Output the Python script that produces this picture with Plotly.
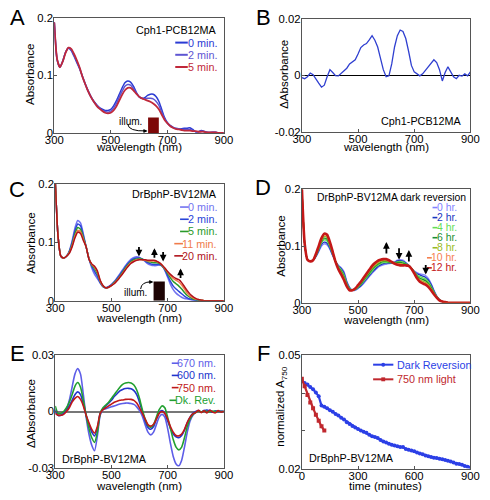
import plotly.graph_objects as go

W, H = 490, 500
FONT = "Liberation Sans, Arial, Helvetica, sans-serif"

# ---------------- data ----------------
wavelength = list(range(300, 901, 10))

# Panel A: Cph1-PCB12MA spectra
a_0min = [0.192,0.127,0.114,0.125,0.140,0.147,0.143,0.133,0.122,0.111,
          0.098,0.085,0.073,0.063,0.055,0.049,0.044,0.041,0.039,0.039,
          0.041,0.047,0.056,0.067,0.078,0.087,0.090,0.088,0.081,0.071,
          0.063,0.060,0.061,0.065,0.067,0.067,0.063,0.055,0.041,0.027,
          0.018,0.013,0.010,0.008,0.007,0.007,0.008,0.008,0.009,0.006,
          0.002,0.002,0.004,0.003,0.001,0.000,0.001,0.001,0.000,0.000,0.000]
a_2min = [0.192,0.128,0.114,0.124,0.140,0.148,0.145,0.135,0.124,0.112,
          0.097,0.084,0.072,0.062,0.054,0.048,0.043,0.039,0.037,0.036,
          0.038,0.043,0.051,0.062,0.072,0.081,0.084,0.083,0.077,0.069,
          0.063,0.060,0.059,0.060,0.060,0.059,0.055,0.048,0.036,0.025,
          0.017,0.012,0.009,0.007,0.007,0.006,0.006,0.006,0.006,0.004,
          0.002,0.002,0.003,0.002,0.001,0.001,0.001,0.001,0.000,0.000,0.000]
a_5min = [0.192,0.128,0.114,0.124,0.139,0.148,0.146,0.137,0.126,0.113,
          0.097,0.084,0.072,0.062,0.054,0.047,0.042,0.038,0.035,0.034,
          0.035,0.039,0.046,0.056,0.066,0.074,0.078,0.078,0.074,0.068,
          0.063,0.060,0.058,0.056,0.054,0.051,0.047,0.041,0.032,0.023,
          0.017,0.012,0.009,0.007,0.006,0.005,0.004,0.004,0.004,0.003,
          0.003,0.002,0.002,0.002,0.001,0.001,0.001,0.001,0.000,0.000,0.000]

# Panel B: difference spectrum
b_delta = [-0.0008,-0.0012,-0.0005,0.0008,0.0002,-0.0015,-0.0028,-0.0042,-0.0035,-0.0005,
           0.0020,0.0010,-0.0001,-0.0002,0.0006,0.0014,0.0025,0.0040,0.0048,0.0055,
           0.0075,0.0098,0.0107,0.0112,0.0125,0.0140,0.0124,0.0100,0.0060,0.0020,
           -0.0005,-0.0002,0.0040,0.0100,0.0140,0.0160,0.0155,0.0130,0.0085,0.0035,
           0.0012,0.0005,-0.0002,0.0005,0.0018,0.0030,0.0040,0.0055,0.0045,0.0020,
           -0.0020,0.0010,0.0030,0.0012,-0.0005,-0.0012,0.0000,-0.0003,0.0005,-0.0002,0.0012]

# Panel C: DrBphP-BV12MA illumination series
c_0min = [0.205,0.110,0.076,0.073,0.076,0.085,0.102,0.124,0.137,0.133,
          0.114,0.092,0.072,0.056,0.045,0.038,0.030,0.024,0.022,0.024,
          0.028,0.033,0.039,0.046,0.053,0.060,0.066,0.071,0.074,0.075,
          0.074,0.071,0.067,0.063,0.061,0.060,0.060,0.061,0.059,0.052,
          0.040,0.028,0.019,0.013,0.009,0.006,0.004,0.003,0.002,0.001,
          0.001,0.000,0.000,0.000,0.000,0.000,0.000,0.000,0.000,0.000,0.000]
c_2min = [0.205,0.110,0.076,0.073,0.076,0.084,0.099,0.119,0.131,0.128,
          0.111,0.092,0.072,0.059,0.050,0.042,0.031,0.024,0.022,0.024,
          0.027,0.032,0.038,0.044,0.051,0.058,0.064,0.069,0.072,0.073,
          0.073,0.071,0.068,0.065,0.063,0.062,0.062,0.062,0.060,0.053,
          0.043,0.033,0.025,0.020,0.016,0.012,0.008,0.005,0.003,0.002,
          0.001,0.001,0.000,0.000,0.000,0.000,0.000,0.000,0.000,0.000,0.000]
c_5min = [0.205,0.110,0.076,0.073,0.076,0.083,0.096,0.114,0.125,0.122,
          0.108,0.092,0.072,0.061,0.055,0.046,0.033,0.025,0.022,0.023,
          0.026,0.031,0.036,0.042,0.049,0.056,0.062,0.067,0.070,0.071,
          0.072,0.071,0.069,0.067,0.066,0.065,0.065,0.064,0.060,0.054,
          0.047,0.039,0.033,0.029,0.025,0.020,0.014,0.009,0.006,0.003,
          0.002,0.001,0.001,0.000,0.000,0.000,0.000,0.000,0.000,0.000,0.000]
c_11min = [0.205,0.110,0.076,0.073,0.076,0.082,0.094,0.110,0.120,0.118,
           0.105,0.092,0.072,0.062,0.057,0.049,0.034,0.025,0.022,0.023,
           0.026,0.030,0.035,0.041,0.047,0.054,0.060,0.065,0.068,0.070,
           0.071,0.070,0.069,0.068,0.068,0.068,0.067,0.065,0.061,0.055,
           0.049,0.043,0.038,0.035,0.032,0.027,0.020,0.013,0.008,0.005,
           0.003,0.002,0.001,0.000,0.000,0.000,0.000,0.000,0.000,0.000,0.000]
c_20min = [0.205,0.110,0.076,0.073,0.076,0.081,0.092,0.107,0.117,0.115,
           0.103,0.092,0.071,0.063,0.059,0.051,0.035,0.026,0.022,0.023,
           0.026,0.029,0.034,0.040,0.046,0.053,0.059,0.064,0.067,0.069,
           0.070,0.070,0.070,0.069,0.069,0.069,0.068,0.065,0.061,0.056,
           0.050,0.045,0.041,0.038,0.036,0.031,0.024,0.017,0.011,0.007,
           0.004,0.002,0.001,0.000,0.000,0.000,0.000,0.000,0.000,0.000,0.000]

# Panel D: dark reversion series
d_0hr = [0.205,0.105,0.076,0.073,0.075,0.081,0.090,0.100,0.104,0.102,
         0.094,0.083,0.073,0.066,0.062,0.055,0.038,0.027,0.022,0.022,
         0.025,0.029,0.034,0.040,0.046,0.052,0.057,0.062,0.065,0.067,
         0.068,0.069,0.070,0.072,0.075,0.076,0.075,0.071,0.066,0.061,
         0.056,0.053,0.051,0.050,0.048,0.043,0.034,0.022,0.012,0.005,
         0.002,0.001,0.000,0.000,0.000,0.000,0.000,0.000,0.000,0.000,0.000]
d_2hr = [0.205,0.105,0.076,0.073,0.075,0.082,0.092,0.103,0.107,0.105,
         0.096,0.084,0.073,0.065,0.060,0.052,0.036,0.026,0.022,0.023,
         0.026,0.030,0.036,0.042,0.048,0.054,0.059,0.064,0.067,0.069,
         0.070,0.070,0.070,0.071,0.074,0.074,0.073,0.070,0.066,0.061,
         0.055,0.051,0.049,0.047,0.045,0.040,0.032,0.021,0.011,0.005,
         0.002,0.001,0.000,0.000,0.000,0.000,0.000,0.000,0.000,0.000,0.000]
d_4hr = [0.205,0.105,0.076,0.073,0.075,0.083,0.094,0.106,0.111,0.109,
         0.099,0.086,0.073,0.064,0.058,0.049,0.034,0.025,0.022,0.023,
         0.027,0.032,0.038,0.044,0.050,0.056,0.062,0.066,0.069,0.071,
         0.071,0.071,0.071,0.071,0.072,0.073,0.072,0.069,0.066,0.061,
         0.055,0.049,0.046,0.044,0.042,0.037,0.029,0.019,0.011,0.005,
         0.002,0.001,0.000,0.000,0.000,0.000,0.000,0.000,0.000,0.000,0.000]
d_6hr = [0.205,0.105,0.076,0.073,0.075,0.083,0.096,0.108,0.114,0.112,
         0.101,0.087,0.073,0.062,0.056,0.046,0.032,0.024,0.022,0.024,
         0.028,0.033,0.040,0.046,0.052,0.059,0.064,0.068,0.071,0.073,
         0.073,0.072,0.071,0.070,0.071,0.071,0.070,0.068,0.065,0.061,
         0.054,0.047,0.043,0.041,0.039,0.034,0.027,0.018,0.010,0.005,
         0.002,0.001,0.000,0.000,0.000,0.000,0.000,0.000,0.000,0.000,0.000]
d_8hr = [0.205,0.105,0.076,0.073,0.075,0.084,0.097,0.110,0.117,0.115,
         0.103,0.088,0.073,0.061,0.054,0.044,0.031,0.023,0.022,0.024,
         0.029,0.035,0.042,0.048,0.055,0.061,0.066,0.070,0.073,0.074,
         0.074,0.073,0.071,0.070,0.069,0.069,0.068,0.067,0.065,0.061,
         0.053,0.045,0.041,0.038,0.036,0.032,0.025,0.017,0.010,0.004,
         0.002,0.001,0.000,0.000,0.000,0.000,0.000,0.000,0.000,0.000,0.000]
d_10hr = [0.205,0.105,0.076,0.073,0.075,0.085,0.099,0.112,0.120,0.118,
          0.105,0.089,0.072,0.060,0.052,0.042,0.030,0.022,0.022,0.025,
          0.030,0.036,0.043,0.050,0.057,0.063,0.068,0.072,0.075,0.076,
          0.076,0.074,0.072,0.069,0.068,0.068,0.067,0.066,0.065,0.060,
          0.053,0.044,0.039,0.036,0.034,0.030,0.023,0.016,0.009,0.004,
          0.002,0.001,0.000,0.000,0.000,0.000,0.000,0.000,0.000,0.000,0.000]
d_12hr = [0.205,0.105,0.076,0.073,0.075,0.086,0.100,0.114,0.122,0.120,
          0.107,0.090,0.072,0.059,0.050,0.040,0.029,0.022,0.022,0.025,
          0.031,0.037,0.044,0.051,0.058,0.065,0.070,0.074,0.076,0.077,
          0.077,0.075,0.072,0.069,0.067,0.066,0.066,0.066,0.065,0.060,
          0.052,0.043,0.037,0.034,0.032,0.028,0.022,0.015,0.009,0.004,
          0.002,0.001,0.000,0.000,0.000,0.000,0.000,0.000,0.000,0.000,0.000]

# Panel E: difference spectra
e_670 = [0.000,-0.002,-0.002,-0.001,0.001,0.006,0.013,0.020,0.023,0.020,
         0.009,-0.003,-0.012,-0.018,-0.021,-0.013,-0.002,0.001,0.0015,0.002,
         0.0025,0.003,0.0035,0.004,0.0043,0.0045,0.0045,0.0043,0.0038,0.0025,
         0.0005,-0.0025,-0.007,-0.011,-0.0125,-0.011,-0.007,-0.003,-0.0015,-0.003,
         -0.009,-0.017,-0.024,-0.028,-0.029,-0.026,-0.019,-0.011,-0.005,-0.002,
         -0.0005,0.0003,-0.0004,0.0006,0.0000,0.0008,-0.0003,0.0004,0.0001,-0.0002,0.0001]
e_600 = [0.001,-0.002,-0.002,-0.001,0.001,0.003,0.006,0.009,0.0105,0.009,
         0.004,-0.002,-0.007,-0.011,-0.013,-0.009,-0.001,0.0015,0.003,0.0045,
         0.006,0.008,0.0095,0.011,0.0118,0.0123,0.0124,0.0122,0.0112,0.009,
         0.005,0.000,-0.005,-0.0085,-0.0095,-0.008,-0.004,-0.0005,0.0005,-0.001,
         -0.005,-0.009,-0.012,-0.0135,-0.014,-0.0128,-0.010,-0.006,-0.003,-0.001,
         0.000,0.0005,-0.0003,0.0004,0.0008,0.0002,-0.0004,0.0003,0.0000,0.0002,0.0000]
e_750 = [-0.001,-0.002,-0.002,-0.0015,0.000,0.002,0.005,0.007,0.008,0.0065,
         0.003,-0.002,-0.006,-0.0095,-0.0115,-0.008,-0.001,0.001,0.002,0.003,
         0.004,0.005,0.0055,0.006,0.0062,0.0065,0.0066,0.0065,0.006,0.0045,
         0.002,-0.001,-0.004,-0.007,-0.0078,-0.0068,-0.004,-0.001,0.000,-0.001,
         -0.004,-0.008,-0.011,-0.0128,-0.013,-0.012,-0.0095,-0.0058,-0.003,-0.0012,
         -0.0005,0.0006,-0.0006,0.0004,-0.0008,0.0007,-0.0002,-0.0007,0.0005,-0.0003,0.0002]
e_dark = [0.003,-0.001,-0.001,0.000,0.002,0.005,0.009,0.0135,0.0155,0.013,
          0.006,-0.002,-0.009,-0.014,-0.0165,-0.011,-0.001,0.002,0.0035,0.005,
          0.007,0.009,0.011,0.013,0.0145,0.0152,0.0155,0.0153,0.0142,0.0115,
          0.007,0.001,-0.004,-0.0075,-0.0085,-0.007,-0.003,0.001,0.003,0.002,
          -0.003,-0.009,-0.015,-0.019,-0.0205,-0.019,-0.014,-0.008,-0.004,-0.0015,
          -0.0005,0.0002,-0.0002,0.0003,0.0000,-0.0002,0.0002,0.0000,0.0001,0.0000,0.0000]

# Panel F: kinetics at 750 nm
f_dark_time = list(range(0, 901, 15))
f_dark = [0.0432,0.0427,0.0423,0.0416,0.0410,0.0402,0.0392,0.0367,0.0364,0.0360,
          0.0355,0.0351,0.0345,0.0341,0.0335,0.0330,0.0323,0.0318,0.0313,0.0309,
          0.0305,0.0301,0.0298,0.0295,0.0290,0.0286,0.0284,0.0281,0.0276,0.0272,
          0.0269,0.0266,0.0263,0.0261,0.0259,0.0257,0.0257,0.0252,0.0250,0.0248,
          0.0246,0.0243,0.0240,0.0238,0.0235,0.0233,0.0231,0.0229,0.0228,0.0226,
          0.0225,0.0223,0.0221,0.0219,0.0216,0.0213,0.0212,0.0210,0.0207,0.0205,0.0203]
f_light_time = list(range(0, 121, 15))
f_light = [0.0438,0.0418,0.0395,0.0375,0.0360,0.0343,0.0327,0.0312,0.0301]

# ---------------- figure ----------------
fig = go.Figure()

def px_x(x): return x / W
def px_y(y): return 1 - y / H

panels = {
    # name: (left, right, top, bottom) in pixels
    "1": (47, 223, 12, 130),
    "2": (304, 479, 13, 129),
    "3": (48, 223, 182, 302),
    "4": (304, 479, 188, 304),
    "5": (48, 223, 358, 473),
    "6": (304, 479, 358, 474),
}

def ax_names(k):
    return ("x" if k == "1" else "x" + k), ("y" if k == "1" else "y" + k)

def add_line(k, x, y, color, width=1.5):
    xa, ya = ax_names(k)
    fig.add_trace(go.Scatter(x=x, y=y, mode="lines", xaxis=xa, yaxis=ya,
                             line=dict(color=color, width=width, shape="spline", smoothing=0.6),
                             showlegend=False, hoverinfo="skip"))

# A
add_line("1", wavelength, a_0min, "#2b3bd3", 1.5)
add_line("1", wavelength, a_2min, "#5e55d2", 1.5)
add_line("1", wavelength, a_5min, "#c0283a", 1.8)
# B
xa, ya = ax_names("2")
fig.add_trace(go.Scatter(x=wavelength, y=b_delta, mode="lines", xaxis=xa, yaxis=ya,
                         line=dict(color="#2f3fd0", width=1.3), showlegend=False, hoverinfo="skip"))
# C
c_series = [(c_0min, "#7272f0"), (c_2min, "#2a45d8"), (c_5min, "#2a9a2a"),
            (c_11min, "#f07b4a"), (c_20min, "#b0121a")]
for ys, col in c_series:
    add_line("3", wavelength, ys, col, 1.5)
# D
d_series = [(d_0hr, "#8282ff"), (d_2hr, "#1a35c0"), (d_4hr, "#66dd55"), (d_6hr, "#1f8f2f"),
            (d_8hr, "#99bb22"), (d_10hr, "#f58050"), (d_12hr, "#c41818")]
for i, (ys, col) in enumerate(d_series):
    add_line("4", wavelength, ys, col, 2.6 if i == 6 else 1.4)
# E
e_series = [(e_670, "#5e5ee8"), (e_600, "#2233cc"), (e_dark, "#22a030"), (e_750, "#c01818")]
for ys, col in e_series:
    add_line("5", wavelength, ys, col, 1.6)
# F
xa, ya = ax_names("6")
fig.add_trace(go.Scatter(x=f_dark_time, y=f_dark, mode="lines+markers", xaxis=xa, yaxis=ya,
                         line=dict(color="#2b3fe6", width=2.2),
                         marker=dict(color="#2b3fe6", size=4, symbol="circle"),
                         showlegend=False, hoverinfo="skip"))
fig.add_trace(go.Scatter(x=f_light_time, y=f_light, mode="lines+markers", xaxis=xa, yaxis=ya,
                         line=dict(color="#c0282e", width=2.2),
                         marker=dict(color="#c0282e", size=4, symbol="square"),
                         showlegend=False, hoverinfo="skip"))

# ---------------- axes ----------------
axis_common = dict(showline=True, mirror=True, linecolor="#555555", linewidth=1,
                   ticks="inside", ticklen=3, tickcolor="#555555", showgrid=False,
                   zeroline=False, tickfont=dict(family=FONT, size=11.3, color="black"))
wl_ticks = dict(tickvals=[300, 500, 700, 900], ticktext=["300", "500", "700", "900"], range=[300, 900])
y_ranges = {
    "1": dict(range=[0, 0.2], tickvals=[0, 0.1, 0.2], ticktext=["0", "0.1", "0.2"]),
    "2": dict(range=[-0.02, 0.02], tickvals=[-0.02, 0, 0.02], ticktext=["-0.02", "0", "0.02"],
              zeroline=True, zerolinecolor="black", zerolinewidth=1.3),
    "3": dict(range=[0, 0.2], tickvals=[0, 0.1, 0.2], ticktext=["0", "0.1", "0.2"]),
    "4": dict(range=[0, 0.2], tickvals=[0, 0.1, 0.2], ticktext=["0", "0.1", "0.2"]),
    "5": dict(range=[-0.03, 0.03], tickvals=[-0.03, 0, 0.03], ticktext=["-0.03", "0", "0.03"],
              zeroline=True, zerolinecolor="#777777", zerolinewidth=1.5),
    "6": dict(range=[0.02, 0.05], tickvals=[0.02, 0.03, 0.04, 0.05], ticktext=["0.02", "", "", "0.05"]),
}
layout_axes = {}
for k, (l, r, t, b) in panels.items():
    xa, ya = ax_names(k)
    xkey = "xaxis" if k == "1" else "xaxis" + k
    ykey = "yaxis" if k == "1" else "yaxis" + k
    xd = dict(axis_common, domain=[px_x(l), px_x(r)], anchor=ya, ticklabelstandoff=-3)
    if k == "6":
        xd.update(range=[0, 900], tickvals=[0, 300, 600, 900], ticktext=["0", "300", "600", "900"])
    else:
        xd.update(wl_ticks)
    yd = dict(axis_common, domain=[px_y(b), px_y(t)], anchor=xa, ticklabelstandoff=-2)
    yd.update(y_ranges[k])
    layout_axes[xkey] = xd
    layout_axes[ykey] = yd

fig.update_layout(**layout_axes)

# ---------------- annotations & shapes ----------------
anns = []
shapes = []

def text(x, y, s, size=10.8, color="black", xanchor="center", angle=0):
    anns.append(dict(x=px_x(x), y=px_y(y), xref="paper", yref="paper", text=s, showarrow=False,
                     xanchor=xanchor, yanchor="middle", textangle=angle,
                     font=dict(family=FONT, size=size, color=color)))

# panel letters
for s, x, y in [("A", 8.5, 12), ("B", 264, 12), ("C", 8, 188), ("D", 264, 186), ("E", 8.5, 356.5), ("F", 264, 356.5)]:
    text(x, y, s, size=22)

# axis titles
TS = 11.5
for cx, cy in [(135, 144), (391, 144), (135, 320), (391, 322), (135, 492)]:
    text(cx, cy, "wavelength (nm)", size=TS)
text(391, 492, "time (minutes)", size=TS)
text(22.5, 70, "Absorbance", size=TS, angle=-90)
text(286, 70, "\u0394Absorbance", size=TS, angle=-90)
text(22.5, 243, "Absorbance", size=TS, angle=-90)
text(282, 246, "Absorbance", size=TS, angle=-90)
text(23, 418, "\u0394Absorbance", size=TS, angle=-90)
text(283, 411, "normalized A<sub>750</sub>", size=TS, angle=-90)

# text width estimate (Arial metrics) for legend swatches
CW = {" ": 278, ".": 278, "m": 833, "i": 222, "n": 556, "h": 556, "r": 333, "D": 722,
      "k": 500, "R": 722, "e": 556, "v": 500}
def tw(s, size):
    return sum(CW.get(ch, 556) for ch in s) * size / 1000.0

def legend_item(right, y, label, color, size, dash_len, gap, lw):
    text(right, y, label, size=size, color=color, xanchor="right")
    x1 = right - tw(label, size) - gap
    shapes.append(dict(type="line", xref="paper", yref="paper", x0=px_x(x1 - dash_len), x1=px_x(x1),
                       y0=px_y(y), y1=px_y(y), line=dict(color=color, width=lw)))

# A legend
text(218, 25, "Cph1-PCB12MA", xanchor="right")
for lab, col, y in [("0 min.", "#2b3bd3", 37.5), ("2 min.", "#5e55d2", 50), ("5 min.", "#c0283a", 62.5)]:
    legend_item(218, y, lab, col, 10.8, 13, 3, 2)
# B label
text(472, 118, "Cph1-PCB12MA", xanchor="right")
# C legend
text(218, 193, "DrBphP-BV12MA", xanchor="right")
for lab, col, y in [("0 min.", "#7272f0", 206), ("2 min.", "#2a45d8", 218.5), ("5 min.", "#2a9a2a", 231),
                    ("11 min.", "#f07b4a", 243.5), ("20 min.", "#b0121a", 256)]:
    legend_item(218, y, lab, col, 10.8, 9, 2, 1.6)
# D legend
text(477, 196, "DrBphP-BV12MA dark reversion", size=10.4, xanchor="right")
d_labels = ["0 hr.", "2 hr.", "4 hr.", "6 hr.", "8 hr.", "10 hr.", "12 hr."]
d_ys = [206.5, 216.8, 227.1, 237.4, 247.7, 258, 268.3]
for lab, (ys, col), y in zip(d_labels, d_series, d_ys):
    legend_item(467, y, lab, col, 10.4, 5, 1.5, 1.6)
# E legend
for lab, col, y in [("670 nm.", "#5e5ee8", 366), ("600 nm.", "#2233cc", 378.5),
                    ("750 nm.", "#c01818", 391), ("Dk. Rev.", "#22a030", 404)]:
    legend_item(217, y, lab, col, 10.8, 7, 2, 1.6)
text(53, 464, "DrBphP-BV12MA", xanchor="left")
# F legend
text(309, 463, "DrBphP-BV12MA", xanchor="left")
text(401, 367.5, "Dark Reversion", size=10.8, color="#2b3fe6", xanchor="left")
text(401, 382.5, "750 nm light", size=10.8, color="#c0282e", xanchor="left")
for y, col, kind in [(367.5, "#2b3fe6", "circle"), (382.5, "#c0282e", "rect")]:
    shapes.append(dict(type="line", xref="paper", yref="paper", x0=px_x(378), x1=px_x(399),
                       y0=px_y(y), y1=px_y(y), line=dict(color=col, width=2)))
    shapes.append(dict(type=kind, xref="paper", yref="paper", x0=px_x(386.5), x1=px_x(390.5),
                       y0=px_y(y + 2), y1=px_y(y - 2), fillcolor=col, line=dict(color=col, width=0)))

# illumination boxes
shapes.append(dict(type="rect", xref="x", yref="y", x0=632, x1=670, y0=0, y1=0.0266,
                   fillcolor="#7d0808", line=dict(width=0)))
shapes.append(dict(type="rect", xref="x3", yref="y3", x0=650, x1=690, y0=0, y1=0.0328,
                   fillcolor="#1e0404", line=dict(width=0)))
text(126.5, 118.5, "illum.", size=10)
text(131, 293.5, "illum.", size=10)
# curved arrows to the boxes
shapes.append(dict(type="path", xref="x", yref="y", path="M 560,0.0150 Q 563,0.0025 624,0.0034",
                   line=dict(color="black", width=1)))
anns.append(dict(x=630, y=0.0034, xref="x", yref="y", ax=-6, ay=0, text="", showarrow=True,
                 arrowhead=2, arrowsize=0.8, arrowwidth=1, arrowcolor="black", standoff=0))
shapes.append(dict(type="path", xref="x3", yref="y3", path="M 604,0.020 Q 606,0.0325 642,0.0322",
                   line=dict(color="black", width=1)))
anns.append(dict(x=649, y=0.0322, xref="x3", yref="y3", ax=-6, ay=0, text="", showarrow=True,
                 arrowhead=2, arrowsize=0.8, arrowwidth=1, arrowcolor="black", standoff=0))

# direction arrows
def varrow(xr, yr, x, y, ay):
    anns.append(dict(x=x, y=y, xref=xr, yref=yr, ax=0, ay=ay, text="", showarrow=True,
                     arrowhead=2, arrowsize=0.75, arrowwidth=1.8, arrowcolor="black", standoff=0))

varrow("x3", "y3", 598, 0.0755, -11)
varrow("x3", "y3", 653, 0.0895, 11)
varrow("x3", "y3", 684, 0.0672, -11)
varrow("x3", "y3", 746, 0.055, 11)
varrow("x4", "y4", 601, 0.1074, 13)
varrow("x4", "y4", 646, 0.0759, -13)
varrow("x4", "y4", 681, 0.0931, 13)
varrow("x4", "y4", 741, 0.050, -11)

fig.update_layout(width=W, height=H, margin=dict(l=0, r=0, t=0, b=0),
                  paper_bgcolor="white", plot_bgcolor="white",
                  annotations=anns, shapes=shapes, showlegend=False,
                  font=dict(family=FONT, size=11, color="black"))

fig.write_html("out.html", config={"displayModeBar": False},
               post_script="document.body.style.margin='0';")
